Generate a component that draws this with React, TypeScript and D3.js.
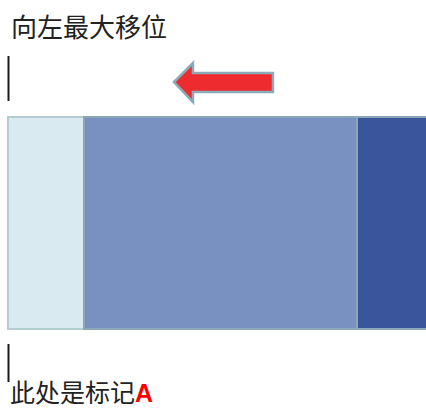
import React from "react";
import * as d3 from "d3";

const segmentNames = ["left", "middle", "right"];
const segmentStarts = [0, 76, 349];
const segmentEnds = [76, 349, 425];
const segmentColors = ["#d9eaf1", "#7891c1", "#3b559d"];
const topLabel = "向左最大移位";
const bottomLabel = "此处是标记";
const bottomMark = "A";

export default function App() {
  const W = 426, H = 410;
  const x = d3.scaleLinear().domain([0, 418]).range([8, 426]);
  const y0 = 117, y1 = 329;
  // arrow geometry
  const tipX = 174, tipY = 82, headX = 193, tailX = 273;
  const arrowPath = d3.path();
  arrowPath.moveTo(tipX, tipY);
  arrowPath.lineTo(headX, 63);
  arrowPath.lineTo(headX, 73);
  arrowPath.lineTo(tailX, 73);
  arrowPath.lineTo(tailX, 92);
  arrowPath.lineTo(headX, 92);
  arrowPath.lineTo(headX, 102);
  arrowPath.closePath();
  const font = "'Noto Sans CJK SC', sans-serif";
  return (
    <svg width={W} height={H} style={{ position: "absolute", left: 0, top: 0, display: "block" }}>
      <rect x={0} y={0} width={W} height={H} fill="#fff" />
      <text x={11} y={37} fontSize={26} fontFamily={font} fill="#222">{topLabel}</text>
      <line x1={8.5} x2={8.5} y1={56} y2={101} stroke="#1a1a1a" strokeWidth={2} />
      {segmentNames.map((n, i) => (
        <rect key={n} x={x(segmentStarts[i])} y={y0} width={x(segmentEnds[i]) - x(segmentStarts[i])} height={y1 - y0}
          fill={segmentColors[i]} stroke={i === 0 ? "#b4cdd5" : "#8ca6b8"} strokeWidth={2} />
      ))}
      <path d={arrowPath.toString()} fill="#ee2b2f" stroke="#8aabb9" strokeWidth={2.5} strokeLinejoin="miter" />
      <line x1={8.5} x2={8.5} y1={344} y2={382} stroke="#1a1a1a" strokeWidth={2} />
      <text x={10} y={402} fontSize={25} fontFamily={font} fill="#222">
        {bottomLabel}
        <tspan fill="#ff0000" fontWeight="bold" fontFamily="'Liberation Sans', Arial, sans-serif">{bottomMark}</tspan>
      </text>
    </svg>
  );
}
